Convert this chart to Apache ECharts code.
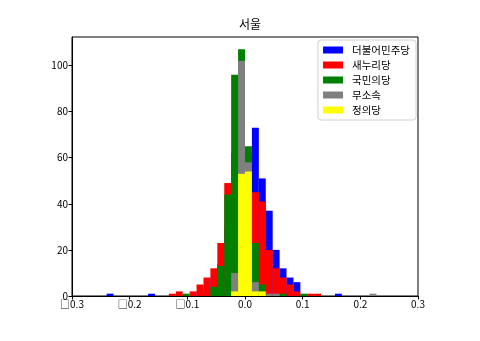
<!DOCTYPE html>
<html>
<head>
<meta charset="utf-8">
<script src="https://cdn.jsdelivr.net/npm/echarts@6/dist/echarts.min.js"></script>
<style>html,body{margin:0;padding:0;background:#fff;}#c{width:480px;height:341px;}</style>
</head>
<body>
<div id="c"></div>
<script>
const title = '서울';
const parties = ['더불어민주당', '새누리당', '국민의당', '무소속', '정의당'];
const colors = ['#0000ff', '#ff0000', '#008000', '#808080', '#ffff00'];
// 50 bins from -0.3 to 0.3
const binEdges = Array.from({length: 51}, (_, i) => +(-0.3 + 0.012 * i).toFixed(3));
const blueCounts = [0,0,0,0,0,1,0,0,0,0, 0,1,0,0,0,0,0,0,2,4, 8,14,30,48,60,62,73,51,37,20, 12,8,6,0,0,0,0,0,1,0, 0,0,0,0,0,0,0,0,0,0];
const redCounts = [0,0,0,0,0,0,0,0,0,0, 0,0,0,0,1,2,0,2,5,8, 12,23,49,62,58,52,45,41,20,12, 8,5,2,0,1,1,0,0,0,0, 0,0,0,0,0,0,0,0,0,0];
const greenCounts = [0,0,0,0,0,0,0,0,0,0, 0,0,0,0,0,0,1,0,0,0, 4,13,44,96,107,65,23,5,0,0, 1,0,0,1,0,0,0,0,0,0, 0,0,0,0,0,0,0,0,0,0];
const grayCounts = [0,0,0,0,0,0,0,0,0,0, 0,0,0,0,0,0,0,0,0,0, 0,0,0,10,102,58,6,1,1,1, 0,0,0,0,0,0,0,0,0,0, 0,0,0,1,0,0,0,0,0,0];
const yellowCounts = [0,0,0,0,0,0,0,0,0,0, 0,0,0,0,0,0,0,0,0,0, 0,0,0,2,53,54,2,2,0,0, 0,0,0,0,0,0,0,0,0,0, 0,0,0,0,0,0,0,0,0,0];
const xTicks = [-0.3, -0.2, -0.1, 0.0, 0.1, 0.2, 0.3];
const xTickLabels = ['□0.3', '□0.2', '□0.1', '0.0', '0.1', '0.2', '0.3'];
const yTicks = [0, 20, 40, 60, 80, 100];
const yMax = 112.35;

const allCounts = [blueCounts, redCounts, greenCounts, grayCounts, yellowCounts];
const font = "'Noto Sans CJK KR', 'DejaVu Sans', sans-serif";

function toData(counts) {
  const d = [];
  counts.forEach((c, i) => { if (c > 0) d.push([binEdges[i], binEdges[i + 1], c]); });
  return d;
}
function renderItem(params, api) {
  const p0 = api.coord([api.value(0), 0]);
  const p1 = api.coord([api.value(1), api.value(2)]);
  return {
    type: 'rect',
    shape: {x: p0[0], y: p1[1], width: p1[0] - p0[0], height: p0[1] - p1[1]},
    style: {fill: api.visual('color')}
  };
}

const chart = echarts.init(document.getElementById('c'), null, {renderer: 'canvas'});
chart.setOption({
  animation: false,
  backgroundColor: '#fff',
  title: {text: title, left: 245, top: 13, textAlign: 'center',
    textStyle: {fontFamily: font, fontSize: 12, fontWeight: 'normal', color: '#000'}},
  grid: {left: 72, right: 62, top: 37, bottom: 45, show: true, borderColor: '#000', borderWidth: 1, backgroundColor: 'transparent'},
  legend: {
    orient: 'vertical', right: 64, top: 40,
    data: parties,
    icon: 'rect', itemWidth: 20, itemHeight: 7, itemGap: 3,
    padding: [4, 6, 4, 5],
    borderColor: '#d0d0d0', borderWidth: 1, borderRadius: 3,
    backgroundColor: 'rgba(255,255,255,0.8)',
    textStyle: {fontFamily: font, fontSize: 10.5, color: '#000', lineHeight: 12, padding: [0, 0, 0, 4]}
  },
  xAxis: {
    type: 'value', min: -0.3, max: 0.3,
    axisLine: {show: true, onZero: false, lineStyle: {color: '#000', width: 1}},
    axisTick: {show: true, length: 3.5, customValues: xTicks, lineStyle: {color: '#000'}},
    axisLabel: {show: true, margin: 3, customValues: xTicks,
      formatter: v => xTickLabels[xTicks.findIndex(t => Math.abs(t - v) < 1e-9)] || '',
      fontFamily: font, fontSize: 10, color: '#000'},
    splitLine: {show: false}
  },
  yAxis: {
    type: 'value', min: 0, max: yMax,
    axisLine: {show: true, onZero: false, lineStyle: {color: '#000', width: 1}},
    axisTick: {show: true, length: 3.5, customValues: yTicks, lineStyle: {color: '#000'}},
    axisLabel: {show: true, margin: 4, customValues: yTicks, fontFamily: font, fontSize: 10, color: '#000'},
    splitLine: {show: false}
  },
  series: allCounts.map((counts, k) => ({
    name: parties[k], type: 'custom', renderItem: renderItem,
    itemStyle: {color: colors[k]},
    encode: {x: [0, 1], y: 2},
    data: toData(counts),
    z: 2
  }))
});
</script>
</body>
</html>
